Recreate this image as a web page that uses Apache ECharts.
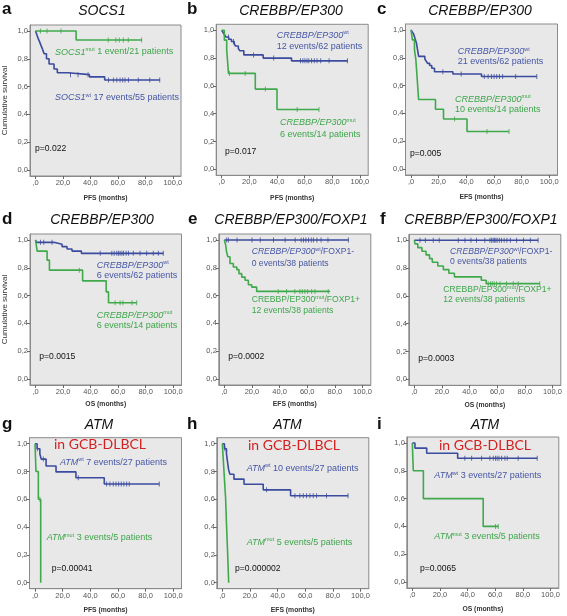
<!DOCTYPE html>
<html><head><meta charset="utf-8">
<script src="https://cdn.jsdelivr.net/npm/echarts@6/dist/echarts.min.js"></script>
<style>html,body{margin:0;padding:0;background:#fff}#c{width:567px;height:616px}</style>
</head><body><div id="c"></div>
<script>
// ---------- tick labels ----------
const xTicks = [0, 20, 40, 60, 80, 100];
const yTicks = [0, 0.2, 0.4, 0.6, 0.8, 1.0];

// ---------- panel a (SOCS1, PFS) ----------
const aWtSteps = [[0,1],[0.7,0.982],[1.3,0.964],[2,0.945],[2.8,0.927],[3.5,0.909],[4.2,0.891],[5,0.873],[5.6,0.855],[6.3,0.836],[8,0.80],[9.9,0.763],[13.5,0.727],[15.9,0.70],[23.6,0.686],[39.3,0.67],[50.4,0.647],[90.5,0.647]];
const aWtCensor = [25.5,31,38.3,53.2,56.8,59.2,61.6,63.5,65.2,67.7,74.9,83.3,90.5];
const aMutSteps = [[0,1],[29.6,0.935],[77.6,0.935]];
const aMutCensor = [3.6,8.4,18.6,53,58.5,61,64,67.6,77.3];

// ---------- panel b (CREBBP/EP300, PFS) ----------
const bWtSteps = [[0,1],[1,0.984],[2,0.968],[3,0.952],[5,0.935],[7,0.919],[9,0.903],[10,0.887],[12,0.87],[13,0.853],[16,0.823],[30,0.80],[50.5,0.78],[91,0.78]];
const bWtCensor = [4.9,8.5,23,37.6,57,58.7,60.2,61.7,63,65,67,69,71.6,77.7,91];
const bMutSteps = [[0,1],[1.9,0.929],[3.6,0.857],[4.9,0.69],[24.3,0.577],[40,0.43],[70.4,0.43]];
const bMutCensor = [5.6,17,31.6,54.6,70.4];

// ---------- panel c (CREBBP/EP300, EFS) ----------
const cWtSteps = [[0,1],[1,0.984],[2,0.968],[3,0.935],[4,0.903],[4.5,0.87],[5,0.84],[5.5,0.81],[10,0.79],[11,0.775],[12,0.76],[13.5,0.745],[15,0.725],[17,0.70],[30.3,0.683],[51,0.665],[91,0.665]];
const cWtCensor = [23,36.3,53,55.8,58.2,60.1,62,64,66.3,75.7,91];
const cMutSteps = [[0,1],[1,0.929],[2.5,0.857],[3.5,0.786],[4,0.714],[4.5,0.643],[5,0.571],[5.5,0.50],[17.7,0.43],[23.5,0.36],[40.5,0.27],[70.9,0.27]];
const cMutCensor = [31.5,55,70.9];

// ---------- panel d (CREBBP/EP300, OS) ----------
const dWtSteps = [[0,1],[0.7,0.983],[13.3,0.969],[19.3,0.952],[22.9,0.935],[26.5,0.92],[33.3,0.904],[92.8,0.904]];
const dWtCensor = [3.6,6,12,47,55.4,57.1,59,60.2,61.4,62.7,63.9,65.8,67.5,71,75.9,80.7,85.5,89.2,92.8];
const dMutSteps = [[0,1],[1.2,0.92],[8.4,0.855],[10.1,0.783],[34.2,0.706],[51.3,0.627],[53,0.549],[73.5,0.549]];
const dMutCensor = [31.8,57.8,61.4,63.5,70,73.5];

// ---------- panel e (CREBBP/EP300/FOXP1, EFS) ----------
const eWtSteps = [[0,1],[89.8,1]];
const eWtCensor = [1.7,2.9,9.2,20,26,35.6,44,51.3,55.6,57.3,59,60.9,62.9,64.5,67,70,75,89.8];
const eMutSteps = [[0,1],[1,0.964],[1.5,0.922],[2.5,0.879],[4.1,0.831],[6.5,0.806],[9,0.787],[10.6,0.758],[12.6,0.733],[15,0.71],[17.4,0.678],[19.8,0.661],[23.4,0.63],[76.5,0.63]];
const eMutCensor = [39,45,51,54.7,56.4,58.3,60.3,63.2,65.6,75.2];

// ---------- panel f (CREBBP/EP300/FOXP1, OS) ----------
const fWtSteps = [[0,1],[89.6,1]];
const fWtCensor = [4.1,8,13.7,18,31.8,36.6,41,45,51,54.7,55.9,57,58,59,60,61.5,63,65,67,69.5,74,79,84,89.6];
const fMutSteps = [[0,1],[0.5,0.974],[2.5,0.947],[5.5,0.921],[8.5,0.895],[11,0.868],[13,0.842],[17,0.815],[21,0.789],[25,0.763],[29,0.737],[48.5,0.712],[52,0.688],[90.8,0.688]];
const fMutCensor = [53.5,55.2,56.4,57.8,59.5,62,66.7,71.6,75.2,90.8];

// ---------- panel g (ATM, PFS) ----------
const gWtSteps = [[0,1],[1.5,0.963],[3.5,0.926],[4.5,0.889],[8,0.839],[15.2,0.797],[29.6,0.755],[50.1,0.71],[89.9,0.71]];
const gWtCensor = [1.7,6,31.3,51.8,54.2,56.6,58.6,60.5,62.4,64.3,66.3,68.2,89.9];
const gMutSteps = [[0,1],[0.7,0.8],[2.4,0.6],[4.1,0]];
const gMutCensor = [3.5];

// ---------- panel h (ATM, EFS) ----------
const hWtSteps = [[0,1],[1.5,0.963],[3,0.926],[3.5,0.889],[4,0.852],[4.5,0.815],[5.5,0.78],[8.4,0.745],[15.7,0.708],[29.6,0.668],[49.4,0.625],[91,0.625]];
const hWtCensor = [1.9,32,52.5,56.1,58.6,61,63.4,65.8,68.2,75.4,91];
const hMutSteps = [[0,1],[1.2,0.8],[2.4,0.6],[3.1,0.4],[3.9,0.2],[4.6,0]];
const hMutCensor = [];

// ---------- panel i (ATM, OS) ----------
const iWtSteps = [[0,1],[1.9,0.963],[10.4,0.926],[32.8,0.89],[90.4,0.89]];
const iWtCensor = [38,42.9,50.1,56.1,58.6,60.2,61.4,62.7,64.6,67,68.7,76.6,90.4];
const iMutSteps = [[0,1],[0.7,0.8],[8,0.6],[51.3,0.4],[62.2,0.4]];
const iMutCensor = [60.2,62.2];

const FONT = '"Liberation Sans", Arial, sans-serif';
const BLUE = '#3b4b9e', GREEN = '#3fa94b';
const BLUE_T = '#4656a6', GREEN_T = '#3ea64b';

const panels = [
 {L:29, T:25, row:0, letter:'a', lx:2, title:'SOCS1', tx:102, xName:'PFS (months)', yName:true,
  wt:aWtSteps, wtC:aWtCensor, mut:aMutSteps, mutC:aMutCensor, p:'p=0.022', pp:[35,149],
  texts:[[55,52,'m','{i|SOCS1}{s|mut}{n| 1 event/21 patients}'],[55,97.7,'w','{i|SOCS1}{s|wt}{n| 17 events/55 patients}']]},
 {L:216.2, T:24.3, row:0, letter:'b', lx:187, title:'CREBBP/EP300', tx:291, xName:'PFS (months)',
  wt:bWtSteps, wtC:bWtCensor, mut:bMutSteps, mutC:bMutCensor, p:'p=0.017', pp:[225,151.7],
  texts:[[276.7,35,'w','{i|CREBBP/EP300}{s|wt}'],[276.7,46.7,'w','{n|12 events/62 patients}'],
         [280,122.7,'m','{i|CREBBP/EP300}{s|mut}'],[280,134.3,'m','{n|6 events/14 patients}']]},
 {L:405.5, T:24, row:0, letter:'c', lx:377, title:'CREBBP/EP300', tx:480, xName:'EFS (months)',
  wt:cWtSteps, wtC:cWtCensor, mut:cMutSteps, mutC:cMutCensor, p:'p=0.005', pp:[410,153.3],
  texts:[[457.7,51.7,'w','{i|CREBBP/EP300}{s|wt}'],[457.7,61.7,'w','{n|21 events/62 patients}'],
         [455,99.3,'m','{i|CREBBP/EP300}{s|mut}'],[455,110,'m','{n|10 events/14 patients}']]},
 {L:29.5, T:234, row:1, letter:'d', lx:2, title:'CREBBP/EP300', tx:102, xName:'OS (months)', yName:true,
  wt:dWtSteps, wtC:dWtCensor, mut:dMutSteps, mutC:dMutCensor, p:'p=0.0015', pp:[39.3,356.7],
  texts:[[96.7,265,'w','{i|CREBBP/EP300}{s|wt}'],[96.7,276,'w','{n|6 events/62 patients}'],
         [96.7,315,'m','{i|CREBBP/EP300}{s|mut}'],[96.7,325.7,'m','{n|6 events/14 patients}']]},
 {L:218.8, T:234, row:1, letter:'e', lx:188, title:'CREBBP/EP300/FOXP1', tx:291, xName:'EFS (months)', small:true,
  wt:eWtSteps, wtC:eWtCensor, mut:eMutSteps, mutC:eMutCensor, p:'p=0.0002', pp:[228.3,356.7],
  texts:[[251.7,251.7,'w','{i|CREBBP/EP300}{s|wt}{n|/FOXP1-}'],[251.7,263.3,'w','{n|0 events/38 patients}'],
         [251.7,300,'m','{n|CREBBP/EP300}{s|mut}{n|/FOXP1+}'],[251.7,311,'m','{n|12 events/38 patients}']]},
 {L:408.8, T:234.3, row:1, letter:'f', lx:380, title:'CREBBP/EP300/FOXP1', tx:481, xName:'OS (months)', small:true,
  wt:fWtSteps, wtC:fWtCensor, mut:fMutSteps, mutC:fMutCensor, p:'p=0.0003', pp:[418.3,359],
  texts:[[450,251.7,'w','{i|CREBBP/EP300}{s|wt}{n|/FOXP1-}'],[450,261.7,'w','{n|0 events/38 patients}'],
         [443.3,290,'m','{n|CREBBP/EP300}{s|mut}{n|/FOXP1+}'],[443.3,299.3,'m','{n|12 events/38 patients}']]},
 {L:29.5, T:437.7, row:2, letter:'g', lx:2, title:'ATM', tx:99, xName:'PFS (months)', red:[100,444.5],
  wt:gWtSteps, wtC:gWtCensor, mut:gMutSteps, mutC:gMutCensor, p:'p=0.00041', pp:[51.7,569],
  texts:[[60,462.3,'w','{i|ATM}{s|wt}{n| 7 events/27 patients}'],[46.7,537.7,'m','{i|ATM}{s|mut}{n| 3 events/5 patients}']]},
 {L:216.8, T:437.7, row:2, letter:'h', lx:187, title:'ATM', tx:287.5, xName:'EFS (months)', red:[294,445.5],
  wt:hWtSteps, wtC:hWtCensor, mut:hMutSteps, mutC:hMutCensor, p:'p=0.000002', pp:[235,568.3],
  texts:[[246.7,468.3,'w','{i|ATM}{s|wt}{n| 10 events/27 patients}'],[246.7,542.3,'m','{i|ATM}{s|mut}{n| 5 events/5 patients}']]},
 {L:406.8, T:437, row:2, letter:'i', lx:377, title:'ATM', tx:485, xName:'OS (months)', red:[485,445],
  wt:iWtSteps, wtC:iWtCensor, mut:iMutSteps, mutC:iMutCensor, p:'p=0.0065', pp:[420,569],
  texts:[[434.3,475.7,'w','{i|ATM}{s|wt}{n| 3 events/27 patients}'],[434.3,536.7,'m','{i|ATM}{s|mut}{n| 3 events/5 patients}']]}
];

const rowLetterY = [9.5, 219, 424];
const rowTitleY = [11, 220, 425];
const rowNameGap = [19, 16, 18];

function survAt(steps, t) {
  let s = steps[0][1];
  for (const [tt, v] of steps) { if (tt <= t) s = v; }
  return s;
}
function fmtX(v){ return Math.abs(v) < 1e-9 ? ',0' : v.toFixed(1).replace('.', ','); }
function fmtY(v){ return v.toFixed(1).replace('.', ','); }

function txt(x, y, text, st) {
  const style = Object.assign({
    text: text, x: 0, y: 0, fontFamily: FONT, fontSize: 9, fill: '#222',
    align: 'left', verticalAlign: 'middle', textAlign: 'left', textVerticalAlign: 'middle'
  }, st || {});
  if (st && st.align) style.textAlign = st.align;
  if (st && st.verticalAlign) style.textVerticalAlign = st.verticalAlign;
  return { type: 'text', x: x, y: y, silent: true, z: 100, style: style };
}

const grids = [], xAxes = [], yAxes = [], series = [], graphics = [];
panels.forEach((p, k) => {
  grids.push({ left: p.L, top: p.T, width: 152, height: 151, show: true,
    backgroundColor: '#e8e8e8', borderColor: '#8a8a8a', borderWidth: 1, containLabel: false });
  xAxes.push({ gridIndex: k, type: 'value', min: -4, max: 106,
    axisLine: { show: true, onZero: false, lineStyle: { color: '#8a8a8a', width: 1 } },
    axisTick: { show: true, customValues: xTicks, length: 3, lineStyle: { color: '#666' } },
    axisLabel: { show: true, customValues: xTicks, formatter: fmtX, fontSize: 7.5, color: '#555', margin: 3, fontFamily: FONT },
    splitLine: { show: false },
    name: p.xName, nameLocation: 'middle', nameGap: rowNameGap[p.row],
    nameTextStyle: { fontSize: 6.8, fontWeight: 'bold', color: '#333', fontFamily: FONT } });
  yAxes.push({ gridIndex: k, type: 'value', min: -0.043, max: 1.043,
    axisLine: { show: true, onZero: false, lineStyle: { color: '#8a8a8a', width: 1 } },
    axisTick: { show: true, customValues: yTicks, length: 3, lineStyle: { color: '#666' } },
    axisLabel: { show: true, customValues: yTicks, formatter: fmtY, fontSize: 7.5, color: '#555', margin: 2, fontFamily: FONT },
    splitLine: { show: false },
    name: p.yName ? 'Cumulative survival' : '', nameLocation: 'middle', nameGap: 21,
    nameTextStyle: { fontSize: 8, color: '#333', fontFamily: FONT } });

  const groups = [
    { steps: p.wt, cens: p.wtC, color: BLUE },
    { steps: p.mut, cens: p.mutC, color: GREEN }
  ];
  groups.forEach(g => {
    series.push({ type: 'line', xAxisIndex: k, yAxisIndex: k, data: g.steps, step: 'end',
      symbol: 'none', showSymbol: false, animation: false, silent: true,
      lineStyle: { color: g.color, width: 1.6 }, z: 3 });
    series.push({ type: 'scatter', xAxisIndex: k, yAxisIndex: k,
      data: g.cens.map(t => [t, survAt(g.steps, t)]),
      symbol: 'rect', symbolSize: [1, 5], animation: false, silent: true,
      itemStyle: { color: g.color }, z: 4 });
  });

  // panel letter and title
  graphics.push(txt(p.lx, rowLetterY[p.row], p.letter, { fontSize: 17, fontWeight: 'bold', fill: '#111' }));
  graphics.push(txt(p.tx, rowTitleY[p.row], p.title, { fontSize: 14, fontStyle: 'italic', fill: '#111', align: 'center' }));
  // annotations
  const fs = p.small ? 8.6 : 9;
  p.texts.forEach(([x, y, who, s]) => {
    const col = who === 'w' ? BLUE_T : GREEN_T;
    graphics.push(txt(x, y, s, { fill: col, fontSize: fs, rich: {
      i: { fontStyle: 'italic', fontSize: fs, fontFamily: FONT, fill: col, lineHeight: 11 },
      n: { fontSize: fs, fontFamily: FONT, fill: col, lineHeight: 11 },
      s: { fontSize: 5.5, fontFamily: FONT, fill: col, verticalAlign: 'top', lineHeight: 7 }
    } }));
  });
  graphics.push(txt(p.pp[0], p.pp[1], p.p, { fontSize: 8.6, fill: '#111' }));
  if (p.red) graphics.push(txt(p.red[0], p.red[1], 'in GCB-DLBCL',
    { fontSize: 14, fontFamily: 'Lato, "Open Sans", sans-serif', fill: '#d41f1f', align: 'center' }));
});

const chart = echarts.init(document.getElementById('c'), null, { renderer: 'canvas' });
chart.setOption({
  animation: false,
  backgroundColor: '#ffffff',
  grid: grids, xAxis: xAxes, yAxis: yAxes, series: series,
  graphic: { elements: graphics }
});
</script></body></html>
